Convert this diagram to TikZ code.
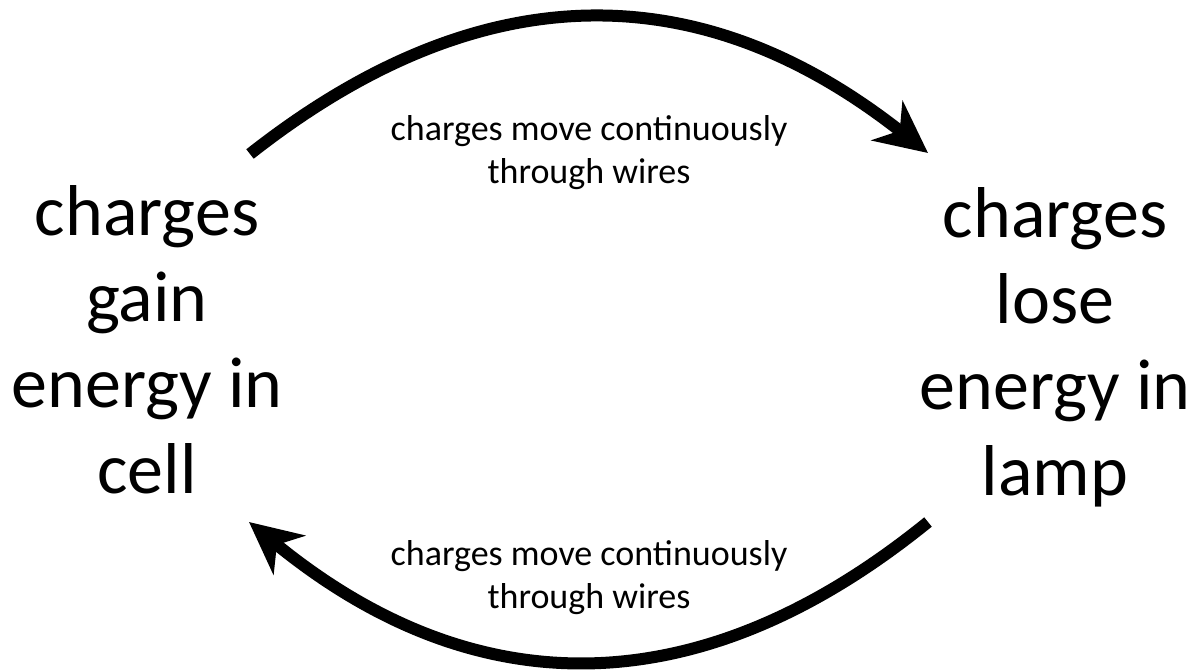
\documentclass[tikz,border=0pt]{standalone}
\usepackage{fontspec}
\setmainfont{Carlito}
\usetikzlibrary{arrows.meta,positioning}
\tikzstyle{place} = [align=center, inner sep=0pt, font=\fontsize{72}{86}\selectfont]
\tikzstyle{wirelabel} = [align=center, inner sep=0pt, font=\fontsize{36}{43}\selectfont]
\tikzstyle{flow} = [line width=12pt, -{Stealth[length=52pt,width=50pt,inset=16pt]}]

\begin{document}
\begin{tikzpicture}[x=1pt,y=-1pt]
\useasboundingbox (0,0) rectangle (1194,670);

% cell and lamp
\node[place] (cell) at (147,340) {charges\\gain\\energy in\\cell};
\node[place] (lamp) at (1055,347) {charges\\lose\\energy in\\lamp};

% labels on the wires
\node[wirelabel] (wiretop) at (589,153) {charges move continuously\\through wires};
\node[wirelabel] (wirebot) at (589,578) {charges move continuously\\through wires};

% ends of the two wires
\coordinate (cellout) at (250,154);
\coordinate (lampin) at (928,153);
\coordinate (lampout) at (928,522);
\coordinate (cellin) at (249,522);

% Arrows
\draw[flow] (cellout) .. controls (480,-27) and (700,-27) .. (lampin);
\draw[flow] (lampout) .. controls (700,707) and (475,707) .. (cellin);
\end{tikzpicture}
\end{document}
